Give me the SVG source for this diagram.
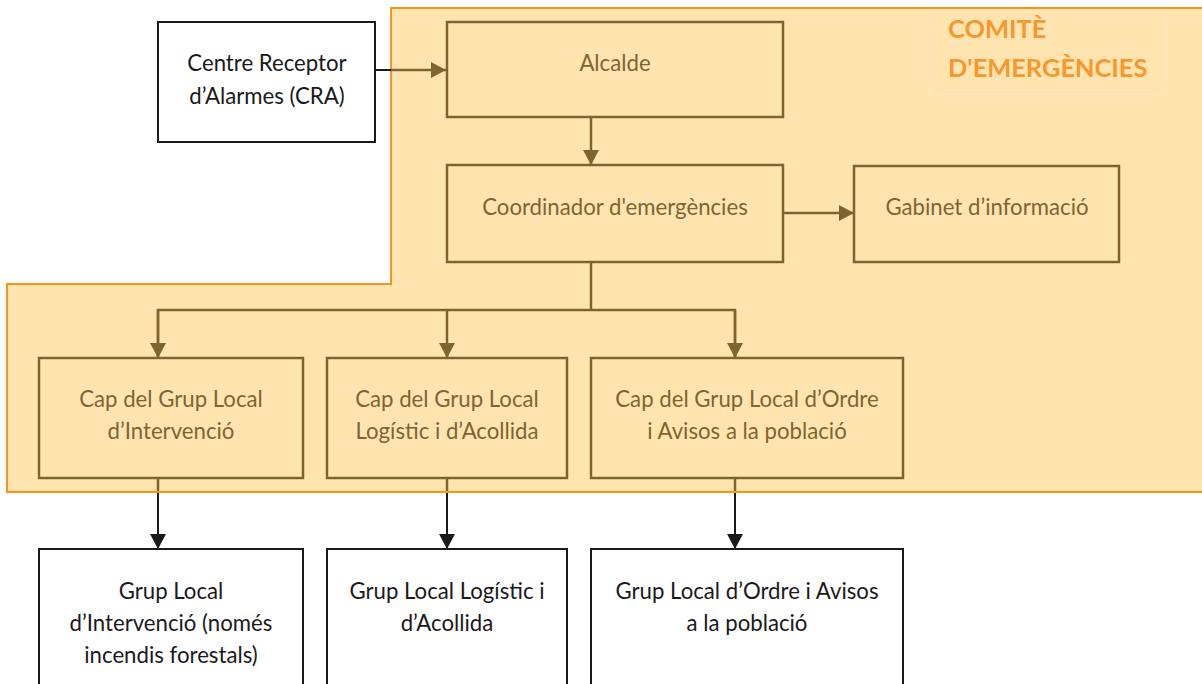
<svg xmlns="http://www.w3.org/2000/svg" width="1202" height="684" viewBox="0 0 1202 684">
<defs>
<style>
.t{font-family:Lato,"Open Sans",sans-serif;font-size:22.2px;text-anchor:middle}
.tb{fill:#7f6432}
.tk{fill:#1a1a1a}
.bb{fill:none;stroke:#7f6432;stroke-width:2.5}
.bk{fill:#fff;stroke:#1a1a1a;stroke-width:2}
.lb{stroke:#7f6432;stroke-width:2.5;fill:none}
.lk{stroke:#1a1a1a;stroke-width:2;fill:none}
.title{font-family:Lato,"Open Sans",sans-serif;font-weight:bold;font-size:25.4px;fill:#f7982f}
</style>
<marker id="ab" markerUnits="userSpaceOnUse" markerWidth="15" markerHeight="16" refX="15" refY="8" orient="auto"><path d="M0,0 L15,8 L0,16 Z" fill="#7f6432"/></marker>
<marker id="ak" markerUnits="userSpaceOnUse" markerWidth="15" markerHeight="16" refX="15" refY="8" orient="auto"><path d="M0,0 L15,8 L0,16 Z" fill="#1a1a1a"/></marker>
</defs>
<rect width="1202" height="684" fill="#fff"/>
<g id="comite">
<path d="M391,8 H1210 V492 H7 V284 H391 Z" fill="#ffe4b0" stroke="#f7941d" stroke-width="2"/>
<rect x="929" y="12" width="237" height="82" fill="none" stroke="#ffe9c2" stroke-width="1"/>
<text class="title" x="948" y="38">COMITÈ</text>
<text class="title" x="948" y="77">D'EMERGÈNCIES</text>
</g>
<g id="connectors">
<line class="lk" x1="375" y1="70" x2="391" y2="70"/>
<line class="lb" x1="391" y1="70" x2="446" y2="70" marker-end="url(#ab)"/>
<line class="lb" x1="591" y1="117" x2="591" y2="165" marker-end="url(#ab)"/>
<line class="lb" x1="783" y1="213" x2="854" y2="213" marker-end="url(#ab)"/>
<line class="lb" x1="591" y1="262" x2="591" y2="310"/>
<polyline class="lb" points="158,358 158,310 735,310 735,358"/>
<line class="lb" x1="158" y1="310" x2="158" y2="358" marker-end="url(#ab)"/>
<line class="lb" x1="447" y1="310" x2="447" y2="358" marker-end="url(#ab)"/>
<line class="lb" x1="735" y1="310" x2="735" y2="358" marker-end="url(#ab)"/>
<line class="lb" x1="158" y1="478" x2="158" y2="491"/>
<line class="lb" x1="447" y1="478" x2="447" y2="491"/>
<line class="lb" x1="735" y1="478" x2="735" y2="491"/>
<line class="lk" x1="158" y1="493" x2="158" y2="549" marker-end="url(#ak)"/>
<line class="lk" x1="447" y1="493" x2="447" y2="549" marker-end="url(#ak)"/>
<line class="lk" x1="735" y1="493" x2="735" y2="549" marker-end="url(#ak)"/>
</g>
<g id="cra">
<rect class="bk" x="158" y="22" width="217" height="120"/>
<text class="t tk" x="267" y="71">Centre Receptor</text>
<text class="t tk" x="267" y="104">d’Alarmes (CRA)</text>
</g>
<g id="alcalde">
<rect class="bb" x="447" y="22" width="336" height="95"/>
<text class="t tb" x="615" y="71">Alcalde</text>
</g>
<g id="coordinador">
<rect class="bb" x="447" y="165" width="336" height="97"/>
<text class="t tb" x="615" y="215">Coordinador d'emergències</text>
</g>
<g id="gabinet">
<rect class="bb" x="854" y="166" width="265" height="96"/>
<text class="t tb" x="987" y="215">Gabinet d’informació</text>
</g>
<g id="cap-intervencio">
<rect class="bb" x="39" y="358" width="264" height="120"/>
<text class="t tb" x="171" y="407">Cap del Grup Local</text>
<text class="t tb" x="171" y="439">d’Intervenció</text>
</g>
<g id="cap-logistic">
<rect class="bb" x="327" y="358" width="240" height="120"/>
<text class="t tb" x="447" y="407">Cap del Grup Local</text>
<text class="t tb" x="447" y="439">Logístic i d’Acollida</text>
</g>
<g id="cap-ordre">
<rect class="bb" x="591" y="358" width="312" height="120"/>
<text class="t tb" x="747" y="407">Cap del Grup Local d’Ordre</text>
<text class="t tb" x="747" y="439">i Avisos a la població</text>
</g>
<g id="grup-intervencio">
<rect class="bk" x="39" y="549" width="264" height="150"/>
<text class="t tk" x="171" y="599">Grup Local</text>
<text class="t tk" x="171" y="631">d’Intervenció (només</text>
<text class="t tk" x="171" y="663">incendis forestals)</text>
</g>
<g id="grup-logistic">
<rect class="bk" x="327" y="549" width="240" height="150"/>
<text class="t tk" x="447" y="599">Grup Local Logístic i</text>
<text class="t tk" x="447" y="631">d’Acollida</text>
</g>
<g id="grup-ordre">
<rect class="bk" x="591" y="549" width="312" height="150"/>
<text class="t tk" x="747" y="599">Grup Local d’Ordre i Avisos</text>
<text class="t tk" x="747" y="631">a la població</text>
</g>
</svg>
